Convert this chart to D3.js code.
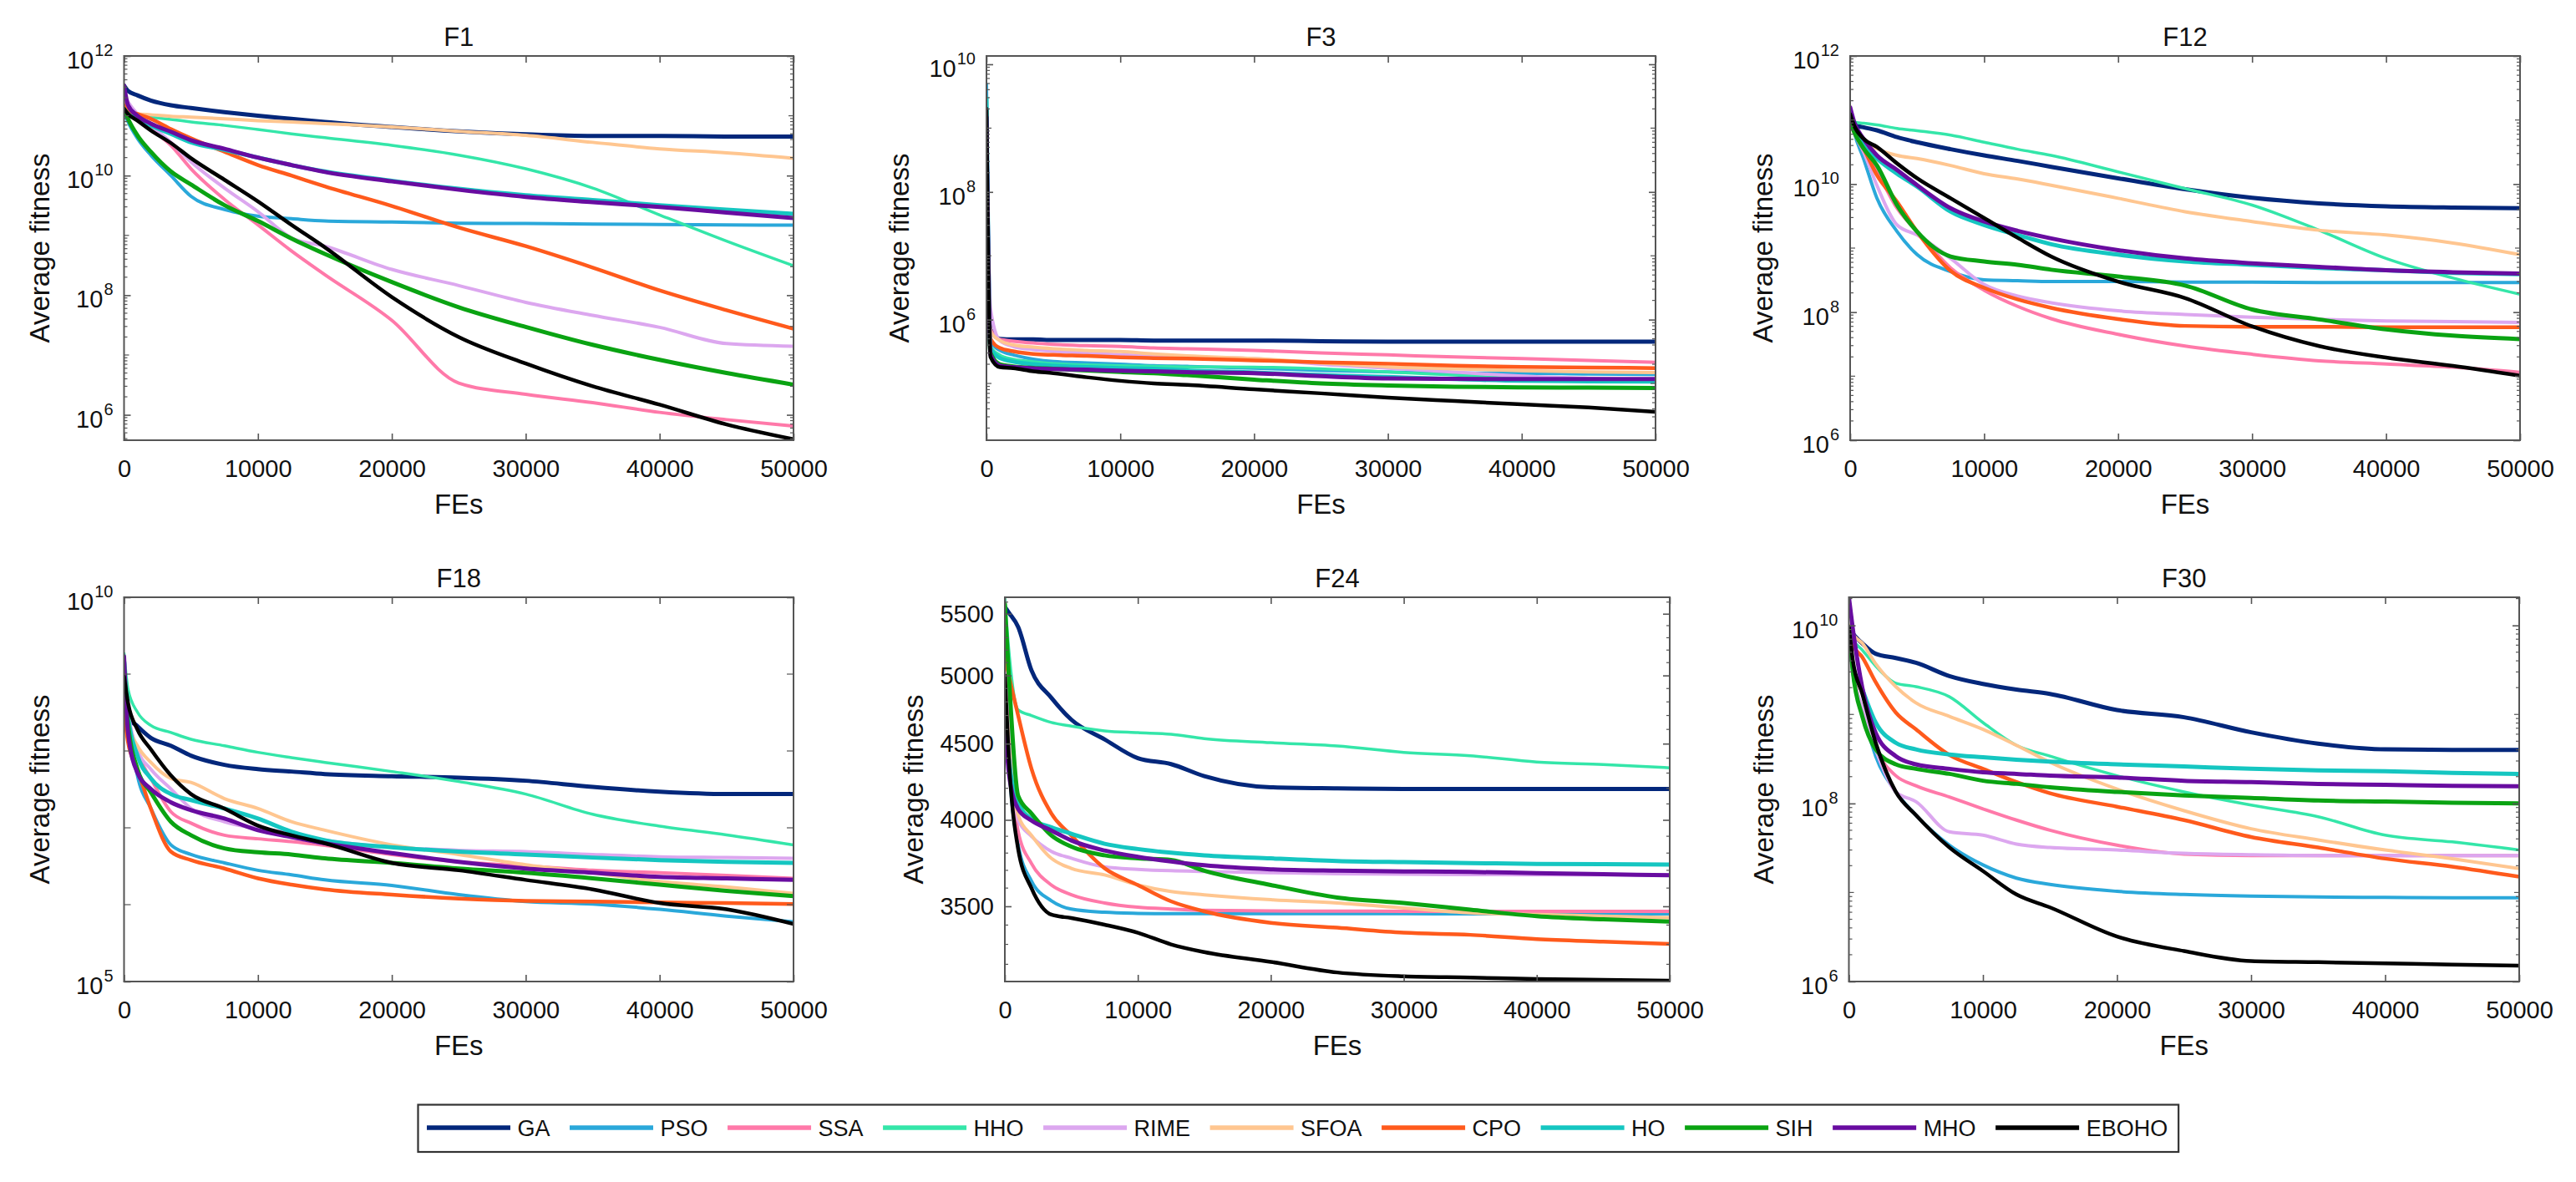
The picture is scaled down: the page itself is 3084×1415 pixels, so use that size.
<!DOCTYPE html>
<html>
<head>
<meta charset="utf-8">
<title>Convergence curves</title>
<script src="https://cdn.jsdelivr.net/npm/d3@7"></script>
<style>
  body { margin: 0; background: #fff; }
  svg { display: block; font-family: "Liberation Sans", Arial, sans-serif; }
</style>
</head>
<body>
<svg id="chart" width="3084" height="1415"></svg>
<script>
// algorithms, in legend / drawing order
const ALGORITHMS = ["GA", "PSO", "SSA", "HHO", "RIME", "SFOA", "CPO", "HO", "SIH", "MHO", "EBOHO"];
const LINE_COLORS = ["#03277b", "#2aa8da", "#ff79a9", "#34e6a9", "#dca7ef", "#ffc690",
                     "#ff5a1c", "#15c6c1", "#0aa312", "#680ca0", "#000000"];
const LINE_WIDTHS = [5, 4, 4, 3.5, 4, 4, 4.5, 5, 5, 5, 4.5];

// sample points on the x axis (function evaluations)
const FES = [0, 300, 1000, 2000, 3500, 5000, 7500, 10000, 12500, 15000,
             20000, 25000, 30000, 35000, 40000, 45000, 50000];
const X_TICKS = [0, 10000, 20000, 30000, 40000, 50000];

// average fitness, one row per algorithm (same order as ALGORITHMS)
const F1_FITNESS = [
  [3.2e11, 2.6e11, 2.2e11, 1.8e11, 1.5e11, 1.35e11, 1.15e11, 1.0e11, 8.9e10, 7.9e10, 6.5e10, 5.5e10, 4.9e10, 4.6e10, 4.6e10, 4.5e10, 4.5e10],
  [1.15e11, 7.9e10, 4.2e10, 2.2e10, 1.0e10, 4.5e9, 2.7e9, 2.1e9, 1.9e9, 1.74e9, 1.67e9, 1.6e9, 1.58e9, 1.55e9, 1.52e9, 1.5e9, 1.48e9],
  [1.9e11, 1.3e11, 8.9e10, 6.0e10, 3.2e10, 1.3e10, 4.0e9, 1.5e9, 5.5e8, 2.2e8, 3.8e7, 3.4e6, 2.2e6, 1.6e6, 1.1e6, 8.3e5, 6.5e5],
  [1.15e11, 1.07e11, 1.0e11, 9.5e10, 8.7e10, 7.9e10, 6.9e10, 5.9e10, 5.0e10, 4.3e10, 3.2e10, 2.2e10, 1.3e10, 6.2e9, 2.2e9, 8.0e8, 3.1e8],
  [2.2e11, 1.7e11, 1.07e11, 6.9e10, 3.6e10, 1.7e10, 6.2e9, 2.5e9, 9.1e8, 6.6e8, 2.7e8, 1.45e8, 7.6e7, 4.6e7, 2.9e7, 1.55e7, 1.4e7],
  [1.48e11, 1.15e11, 1.07e11, 1.04e11, 9.8e10, 9.5e10, 8.9e10, 8.3e10, 7.9e10, 7.4e10, 6.5e10, 5.5e10, 4.7e10, 3.6e10, 2.8e10, 2.4e10, 1.95e10],
  [1.5e11, 1.2e11, 1.07e11, 8.9e10, 6.0e10, 4.2e10, 2.5e10, 1.5e10, 1.0e10, 6.6e9, 3.1e9, 1.35e9, 6.6e8, 2.9e8, 1.2e8, 5.6e7, 2.75e7],
  [1.3e11, 1.07e11, 8.9e10, 6.9e10, 5.0e10, 3.6e10, 2.7e10, 2.0e10, 1.5e10, 1.17e10, 8.2e9, 6.0e9, 4.7e9, 3.9e9, 3.2e9, 2.7e9, 2.3e9],
  [1.3e11, 8.9e10, 4.7e10, 2.5e10, 1.17e10, 7.1e9, 3.2e9, 1.74e9, 8.9e8, 4.9e8, 1.66e8, 6.3e7, 2.95e7, 1.48e7, 8.3e6, 5.0e6, 3.2e6],
  [3.2e11, 1.5e11, 1.0e11, 7.4e10, 5.4e10, 3.9e10, 2.8e10, 2.0e10, 1.5e10, 1.15e10, 8.0e9, 5.8e9, 4.4e9, 3.6e9, 3.0e9, 2.4e9, 1.95e9],
  [1.3e11, 1.07e11, 8.3e10, 5.7e10, 3.5e10, 1.95e10, 8.5e9, 3.7e9, 1.5e9, 6.3e8, 9.3e7, 2.0e7, 7.2e6, 3.0e6, 1.48e6, 6.9e5, 3.9e5]
];

const F3_FITNESS = [
  [8e8, 7e5, 5e5, 4.9e5, 4.9e5, 4.8e5, 4.8e5, 4.8e5, 4.7e5, 4.7e5, 4.7e5, 4.6e5, 4.5e5, 4.5e5, 4.5e5, 4.5e5, 4.5e5],
  [4.9e9, 4.5e5, 3.3e5, 2.8e5, 2.4e5, 2.2e5, 2.1e5, 2.0e5, 1.9e5, 1.85e5, 1.74e5, 1.6e5, 1.51e5, 1.45e5, 1.45e5, 1.4e5, 1.38e5],
  [6e8, 7e5, 4.9e5, 4.6e5, 4.3e5, 4.1e5, 3.9e5, 3.8e5, 3.6e5, 3.5e5, 3.3e5, 3.0e5, 2.8e5, 2.6e5, 2.45e5, 2.3e5, 2.15e5],
  [1e9, 3.8e5, 2.8e5, 2.4e5, 2.2e5, 2.05e5, 1.95e5, 1.9e5, 1.85e5, 1.82e5, 1.8e5, 1.7e5, 1.51e5, 1.35e5, 1.2e5, 1.12e5, 1.08e5],
  [5e8, 1.5e6, 4.7e5, 3.8e5, 3.4e5, 3.2e5, 3.0e5, 2.82e5, 2.7e5, 2.6e5, 2.45e5, 2.0e5, 1.74e5, 1.5e5, 1.3e5, 1.2e5, 1.12e5],
  [4e8, 6.5e5, 4.7e5, 4.0e5, 3.7e5, 3.5e5, 3.3e5, 3.16e5, 2.9e5, 2.7e5, 2.45e5, 2.1e5, 1.82e5, 1.7e5, 1.58e5, 1.52e5, 1.48e5],
  [7e8, 5e5, 3.6e5, 3.2e5, 2.9e5, 2.8e5, 2.7e5, 2.57e5, 2.5e5, 2.45e5, 2.3e5, 2.15e5, 2.04e5, 1.9e5, 1.82e5, 1.78e5, 1.74e5],
  [3e9, 3.5e5, 2.5e5, 2.2e5, 2.0e5, 1.9e5, 1.8e5, 1.74e5, 1.7e5, 1.6e5, 1.48e5, 1.35e5, 1.26e5, 1.17e5, 1.1e5, 1.08e5, 1.07e5],
  [1.1e7, 3e5, 2.0e5, 1.85e5, 1.75e5, 1.7e5, 1.6e5, 1.51e5, 1.45e5, 1.35e5, 1.15e5, 1.0e5, 9.3e4, 8.9e4, 8.7e4, 8.6e4, 8.5e4],
  [1.5e9, 2.8e5, 1.9e5, 1.8e5, 1.72e5, 1.68e5, 1.64e5, 1.58e5, 1.55e5, 1.5e5, 1.45e5, 1.3e5, 1.2e5, 1.18e5, 1.17e5, 1.17e5, 1.17e5],
  [2e9, 2.6e5, 1.8e5, 1.74e5, 1.55e5, 1.45e5, 1.25e5, 1.1e5, 1.0e5, 9.5e4, 8.1e4, 7.0e4, 6.0e4, 5.3e4, 4.7e4, 4.2e4, 3.6e4]
];

const F12_FITNESS = [
  [9.3e10, 8.4e10, 7.7e10, 6.9e10, 5.4e10, 4.5e10, 3.5e10, 2.8e10, 2.3e10, 1.86e10, 1.23e10, 8.3e9, 6.1e9, 5.0e9, 4.5e9, 4.3e9, 4.2e9],
  [1.3e11, 6.5e10, 2.5e10, 6.0e9, 1.82e9, 7.9e8, 4.3e8, 3.2e8, 3.1e8, 3.0e8, 3.0e8, 2.95e8, 2.95e8, 2.9e8, 2.9e8, 2.9e8, 2.9e8],
  [9.3e10, 6.5e10, 3.2e10, 1.55e10, 4.2e9, 1.82e9, 4.9e8, 2.2e8, 1.23e8, 7.9e7, 4.5e7, 2.95e7, 2.2e7, 1.74e7, 1.55e7, 1.38e7, 1.15e7],
  [9.8e10, 9.3e10, 8.9e10, 8.4e10, 7.4e10, 6.8e10, 5.8e10, 4.5e10, 3.5e10, 2.8e10, 1.55e10, 8.5e9, 4.7e9, 1.9e9, 6.9e8, 3.4e8, 1.9e8],
  [9.3e10, 6.5e10, 3.2e10, 9.5e9, 2.3e9, 1.6e9, 6.9e8, 2.7e8, 1.78e8, 1.4e8, 1.05e8, 9.2e7, 8.3e7, 7.7e7, 7.3e7, 7.1e7, 6.9e7],
  [9.3e10, 6.9e10, 5.1e10, 3.6e10, 2.8e10, 2.5e10, 1.95e10, 1.45e10, 1.2e10, 9.6e9, 6.0e9, 3.7e9, 2.6e9, 1.9e9, 1.6e9, 1.2e9, 7.9e8],
  [9.3e10, 6.5e10, 3.6e10, 1.38e10, 5.3e9, 1.8e9, 4.4e8, 2.4e8, 1.58e8, 1.17e8, 7.8e7, 6.1e7, 5.9e7, 5.9e7, 5.8e7, 5.8e7, 5.8e7],
  [1.3e11, 8.2e10, 4.0e10, 2.5e10, 1.45e10, 9.1e9, 3.7e9, 2.3e9, 1.6e9, 1.15e9, 7.9e8, 6.2e8, 5.5e8, 4.9e8, 4.5e8, 4.1e8, 3.9e8],
  [9.3e10, 6.5e10, 3.6e10, 1.95e10, 4.7e9, 1.8e9, 7.4e8, 6.2e8, 5.5e8, 4.6e8, 3.6e8, 2.6e8, 1.1e8, 7.7e7, 5.4e7, 4.3e7, 3.8e7],
  [1.58e11, 9.3e10, 5.1e10, 2.8e10, 1.66e10, 9.6e9, 4.2e9, 2.6e9, 1.86e9, 1.42e9, 9.3e8, 6.9e8, 5.8e8, 5.1e8, 4.5e8, 4.2e8, 4.0e8],
  [1.24e11, 8.2e10, 5.1e10, 3.8e10, 2.1e10, 1.23e10, 6.0e9, 2.95e9, 1.45e9, 7.4e8, 3.0e8, 1.66e8, 6.0e7, 2.95e7, 1.95e7, 1.45e7, 1.02e7]
];

const F18_FITNESS = [
  [1.5e9, 2.8e8, 2.1e8, 1.48e8, 1.17e8, 8.7e7, 6.6e7, 5.8e7, 5.4e7, 5.0e7, 4.7e7, 4.5e7, 4.1e7, 3.4e7, 2.95e7, 2.75e7, 2.75e7],
  [1.5e9, 2.8e8, 4.8e7, 1.8e7, 6.0e6, 4.5e6, 3.5e6, 2.8e6, 2.45e6, 2.1e6, 1.78e6, 1.35e6, 1.1e6, 1.02e6, 8.7e5, 7.1e5, 6.0e5],
  [9.3e8, 2.8e8, 9.5e7, 4.4e7, 1.62e7, 1.15e7, 8.0e6, 7.2e6, 6.6e6, 5.9e6, 4.5e6, 3.6e6, 3.2e6, 2.8e6, 2.6e6, 2.4e6, 2.2e6],
  [1.86e9, 6.3e8, 3.2e8, 2.15e8, 1.74e8, 1.42e8, 1.17e8, 9.6e7, 8.2e7, 7.1e7, 5.4e7, 4.0e7, 2.75e7, 1.5e7, 1.05e7, 8.1e6, 6.0e6],
  [1.26e9, 3.5e8, 1.05e8, 5.8e7, 3.2e7, 1.78e7, 1.2e7, 9.8e6, 8.5e6, 6.9e6, 5.6e6, 5.1e6, 4.9e6, 4.5e6, 4.2e6, 4.1e6, 4.0e6],
  [9.3e8, 2.3e8, 1.17e8, 7.1e7, 4.4e7, 3.9e7, 2.4e7, 1.78e7, 1.2e7, 9.3e6, 6.0e6, 4.5e6, 3.3e6, 2.6e6, 2.0e6, 1.7e6, 1.4e6],
  [3.2e8, 1.3e8, 5.8e7, 1.78e7, 4.9e6, 3.8e6, 2.95e6, 2.2e6, 1.82e6, 1.58e6, 1.35e6, 1.2e6, 1.12e6, 1.1e6, 1.07e6, 1.05e6, 1.02e6],
  [1.26e9, 2.8e8, 8.7e7, 4.4e7, 2.75e7, 2.3e7, 1.78e7, 1.32e7, 8.9e6, 6.9e6, 5.6e6, 4.9e6, 4.5e6, 4.1e6, 3.8e6, 3.6e6, 3.5e6],
  [1.26e9, 2.3e8, 5.8e7, 2.9e7, 1.2e7, 8.0e6, 5.4e6, 4.8e6, 4.5e6, 4.0e6, 3.5e6, 2.95e6, 2.6e6, 2.2e6, 1.82e6, 1.51e6, 1.29e6],
  [1.7e9, 1.74e8, 5.2e7, 3.2e7, 2.15e7, 1.7e7, 1.32e7, 9.3e6, 7.6e6, 6.3e6, 4.7e6, 3.6e6, 2.95e6, 2.6e6, 2.3e6, 2.2e6, 2.1e6],
  [9.3e8, 4.2e8, 1.9e8, 1.05e8, 4.8e7, 2.75e7, 1.78e7, 1.07e7, 8.0e6, 6.3e6, 3.5e6, 2.8e6, 2.1e6, 1.58e6, 1.05e6, 8.7e5, 5.6e5]
];

const F24_FITNESS = [
  [5560, 5510, 5390, 5040, 4830, 4670, 4530, 4400, 4360, 4280, 4207, 4200, 4196, 4196, 4196, 4196, 4196],
  [5100, 4400, 3850, 3640, 3530, 3485, 3468, 3462, 3460, 3460, 3460, 3460, 3460, 3459, 3459, 3459, 3459],
  [5200, 4600, 3930, 3740, 3617, 3563, 3518, 3495, 3485, 3478, 3475, 3474, 3473, 3473, 3473, 3473, 3473],
  [5630, 5200, 4740, 4700, 4650, 4624, 4590, 4577, 4566, 4535, 4507, 4484, 4440, 4417, 4374, 4357, 4335],
  [5280, 4700, 4000, 3900, 3810, 3770, 3720, 3706, 3698, 3694, 3687, 3681, 3678, 3676, 3675, 3675, 3675],
  [5000, 4500, 4030, 3906, 3769, 3711, 3674, 3617, 3581, 3563, 3536, 3518, 3491, 3465, 3456, 3447, 3439],
  [5145, 5000, 4700, 4330, 4040, 3905, 3712, 3617, 3527, 3473, 3412, 3386, 3360, 3349, 3327, 3314, 3302],
  [4800, 4400, 4110, 4006, 3955, 3915, 3855, 3824, 3802, 3787, 3769, 3754, 3747, 3742, 3737, 3735, 3733],
  [5585, 5000, 4152, 4040, 3905, 3838, 3787, 3769, 3760, 3698, 3617, 3548, 3518, 3482, 3447, 3430, 3418],
  [4700, 4300, 4068, 3996, 3935, 3875, 3815, 3778, 3751, 3729, 3706, 3698, 3694, 3691, 3684, 3678, 3672],
  [5000, 4400, 3824, 3600, 3455, 3437, 3402, 3360, 3300, 3261, 3212, 3160, 3141, 3135, 3128, 3124, 3120]
];

const F30_FITNESS = [
  [9.6e9, 8.1e9, 6.3e9, 4.8e9, 4.3e9, 3.8e9, 2.7e9, 2.2e9, 1.9e9, 1.7e9, 1.12e9, 9.3e8, 6.3e8, 4.7e8, 4.05e8, 4.0e8, 4.0e8],
  [9.6e9, 2.9e9, 1.1e9, 3.4e8, 1.35e8, 7.4e7, 3.4e7, 2.04e7, 1.45e7, 1.23e7, 1.03e7, 9.5e6, 9.1e6, 8.9e6, 8.8e6, 8.7e6, 8.7e6],
  [9.6e9, 3.5e9, 1.0e9, 4.05e8, 2.05e8, 1.58e8, 1.18e8, 8.7e7, 6.5e7, 5.0e7, 3.4e7, 2.7e7, 2.6e7, 2.6e7, 2.6e7, 2.6e7, 2.6e7],
  [9.6e9, 7.0e9, 5.3e9, 3.5e9, 2.24e9, 2.05e9, 1.58e9, 8.1e8, 4.5e8, 3.4e8, 2.05e8, 1.35e8, 9.6e7, 7.1e7, 4.4e7, 3.7e7, 3.0e7],
  [9.6e9, 3.0e9, 1.2e9, 4.0e8, 1.35e8, 1.05e8, 4.8e7, 4.4e7, 3.5e7, 3.2e7, 3.0e7, 2.75e7, 2.65e7, 2.6e7, 2.6e7, 2.6e7, 2.6e7],
  [1.0e10, 8.0e9, 6.3e9, 3.7e9, 2.05e9, 1.35e9, 9.5e8, 6.8e8, 4.5e8, 2.9e8, 1.45e8, 8.3e7, 5.2e7, 3.9e7, 3.0e7, 2.4e7, 1.86e7],
  [8.8e9, 6.0e9, 4.4e9, 2.3e9, 1.05e9, 6.8e8, 3.5e8, 2.45e8, 1.74e8, 1.3e8, 9.2e7, 6.5e7, 4.2e7, 3.2e7, 2.4e7, 1.95e7, 1.5e7],
  [9.6e9, 3.5e9, 1.9e9, 8.1e8, 4.8e8, 4.05e8, 3.55e8, 3.3e8, 3.1e8, 2.95e8, 2.75e8, 2.6e8, 2.45e8, 2.35e8, 2.3e8, 2.2e8, 2.14e8],
  [9.6e9, 3.0e9, 9.5e8, 4.05e8, 2.75e8, 2.45e8, 2.15e8, 1.8e8, 1.66e8, 1.52e8, 1.35e8, 1.23e8, 1.15e8, 1.08e8, 1.05e8, 1.02e8, 1.0e8],
  [2.07e10, 9.0e9, 2.0e9, 6.2e8, 3.4e8, 2.75e8, 2.45e8, 2.24e8, 2.15e8, 2.05e8, 1.96e8, 1.8e8, 1.74e8, 1.66e8, 1.62e8, 1.58e8, 1.56e8],
  [9.6e9, 4.0e9, 1.7e9, 4.8e8, 1.35e8, 7.4e7, 3.2e7, 1.74e7, 9.5e6, 6.8e6, 3.2e6, 2.2e6, 1.7e6, 1.65e6, 1.6e6, 1.55e6, 1.51e6]
];

const PANEL_TITLES = ["F1", "F3", "F12", "F18", "F24", "F30"];
const Y_RANGES = [[3.76e5, 1e12], [1.29e4, 1.35e10], [1e6, 1e12], [1e5, 1e10], [3116, 5642], [1e6, 2.07e10]];
const Y_TICKS = [
  [1e6, 1e8, 1e10, 1e12],
  [1e6, 1e8, 1e10],
  [1e6, 1e8, 1e10, 1e12],
  [1e5, 1e10],
  [3500, 4000, 4500, 5000, 5500],
  [1e6, 1e8, 1e10]
];

// layout: [left, right, top, bottom] of each plot box, y-label distance, minor tick style
const PANEL_BOXES = [
  [148.5, 950, 67, 527], [1181, 1982, 67, 527], [2215, 3017, 67, 527],
  [148.5, 950, 715, 1175], [1203, 1999, 715, 1175], [2213.5, 3016, 715, 1175]
];
const YLABEL_GAP = [90, 93, 93, 90, 98, 91];
const MINOR_KIND = ["sub", "sub", "sub", "decade", "hundred", "sub"];
const PANEL_DATA = [F1_FITNESS, F3_FITNESS, F12_FITNESS, F18_FITNESS, F24_FITNESS, F30_FITNESS];

const AXIS_COLOR = "#555555";
const FONT = '"Liberation Sans", Arial, sans-serif';

const svg = d3.select("#chart");
svg.append("rect").attr("width", 3084).attr("height", 1415).attr("fill", "#fff");

function minorTicks(kind, domain, majors) {
  const [lo, hi] = domain;
  const out = [];
  if (kind === "hundred") {
    for (let v = Math.ceil(lo / 100) * 100; v <= hi; v += 100) {
      if (!majors.includes(v)) out.push({ v: v, len: 4 });
    }
    return out;
  }
  const steps = kind === "sub" ? [1, 2, 3, 4, 5, 6, 7, 8, 9] : [1];
  for (let k = Math.floor(Math.log10(lo)); k <= Math.ceil(Math.log10(hi)); k++) {
    for (const m of steps) {
      const v = m * Math.pow(10, k);
      if (v < lo * 0.9999 || v > hi * 1.0001) continue;
      if (majors.some(t => Math.abs(t - v) / v < 1e-6)) continue;
      out.push({ v: v, len: m === 1 ? (kind === "decade" ? 8 : 6) : 4 });
    }
  }
  return out;
}

PANEL_TITLES.forEach((title, i) => {
  const [left, right, top, bottom] = PANEL_BOXES[i];
  const x = d3.scaleLinear().domain([0, 50000]).range([left, right]);
  const y = d3.scaleLog().domain(Y_RANGES[i]).range([bottom, top]);
  const g = svg.append("g");

  g.append("clipPath").attr("id", "clip" + i)
    .append("rect")
    .attr("x", left).attr("y", top)
    .attr("width", right - left).attr("height", bottom - top);

  const lineGen = d3.line()
    .x((d, j) => x(FES[j]))
    .y(d => y(d))
    .curve(d3.curveMonotoneX);

  g.append("g")
    .attr("clip-path", `url(#clip${i})`)
    .selectAll("path")
    .data(PANEL_DATA[i])
    .join("path")
    .attr("d", lineGen)
    .attr("fill", "none")
    .attr("stroke", (d, k) => LINE_COLORS[k])
    .attr("stroke-width", (d, k) => LINE_WIDTHS[k])
    .attr("stroke-linejoin", "round")
    .attr("stroke-linecap", "round");

  const styleTicks = a => {
    a.select(".domain").remove();
    a.selectAll("line").attr("stroke", AXIS_COLOR).attr("stroke-width", 1.6);
  };

  // x axes (bottom with labels, top mirrored)
  g.append("g")
    .attr("transform", `translate(0,${bottom})`)
    .call(d3.axisBottom(x).tickValues(X_TICKS).tickFormat(d3.format("d")).tickSizeInner(-8).tickSizeOuter(0))
    .call(styleTicks)
    .call(a => a.selectAll("text").attr("y", 43.5).attr("dy", null).attr("fill", "#111"))
    .attr("font-family", FONT).attr("font-size", 29);
  g.append("g")
    .attr("transform", `translate(0,${top})`)
    .call(d3.axisTop(x).tickValues(X_TICKS).tickFormat("").tickSizeInner(-8).tickSizeOuter(0))
    .call(styleTicks);

  // y axes (left and right, major ticks)
  g.append("g")
    .attr("transform", `translate(${left},0)`)
    .call(d3.axisLeft(y).tickValues(Y_TICKS[i]).tickFormat("").tickSizeInner(-8).tickSizeOuter(0))
    .call(styleTicks);
  g.append("g")
    .attr("transform", `translate(${right},0)`)
    .call(d3.axisRight(y).tickValues(Y_TICKS[i]).tickFormat("").tickSizeInner(-8).tickSizeOuter(0))
    .call(styleTicks);

  // minor ticks
  const minors = minorTicks(MINOR_KIND[i], Y_RANGES[i], Y_TICKS[i]);
  const mg = g.append("g").attr("stroke", AXIS_COLOR).attr("stroke-width", 1.2);
  mg.selectAll("line.l").data(minors).join("line").attr("class", "l")
    .attr("x1", left).attr("x2", d => left + d.len)
    .attr("y1", d => y(d.v)).attr("y2", d => y(d.v));
  mg.selectAll("line.r").data(minors).join("line").attr("class", "r")
    .attr("x1", right).attr("x2", d => right - d.len)
    .attr("y1", d => y(d.v)).attr("y2", d => y(d.v));

  // y tick labels
  const plain = MINOR_KIND[i] === "hundred";
  g.selectAll("text.ylab")
    .data(Y_TICKS[i])
    .join("text")
    .attr("class", "ylab")
    .attr("x", left - 13)
    .attr("y", d => y(d) + (plain ? 10 : 15))
    .attr("text-anchor", "end")
    .attr("font-size", 29)
    .attr("fill", "#111")
    .each(function (d) {
      const t = d3.select(this);
      if (plain) {
        t.text(d3.format("d")(d));
      } else {
        t.append("tspan").text("10");
        t.append("tspan").attr("font-size", 20).attr("dy", -15).attr("dx", 1)
          .text(Math.round(Math.log10(d)));
      }
    });

  // box
  g.append("rect")
    .attr("x", left).attr("y", top)
    .attr("width", right - left).attr("height", bottom - top)
    .attr("fill", "none").attr("stroke", AXIS_COLOR).attr("stroke-width", 2);

  // titles and axis labels
  g.append("text")
    .attr("x", (left + right) / 2).attr("y", top - 12)
    .attr("text-anchor", "middle").attr("font-size", 31).attr("fill", "#111")
    .text(title);
  g.append("text")
    .attr("x", (left + right) / 2).attr("y", bottom + 88)
    .attr("text-anchor", "middle").attr("font-size", 33).attr("fill", "#111")
    .text("FEs");
  g.append("text")
    .attr("transform", `translate(${left - YLABEL_GAP[i]},${(top + bottom) / 2}) rotate(-90)`)
    .attr("text-anchor", "middle").attr("font-size", 33).attr("fill", "#111")
    .text("Average fitness");
});

// legend
const LEG = { x: 500.5, y: 1322.5, h: 56.5, start: 511, lineLen: 100, textGap: 8.5, itemGap: 23.5, pad: 13, cy: 1350 };
const legend = svg.append("g");
const legendBox = legend.append("rect")
  .attr("x", LEG.x).attr("y", LEG.y).attr("height", LEG.h)
  .attr("fill", "#fff").attr("stroke", "#333").attr("stroke-width", 2.2);
let cursor = LEG.start;
let textEnd = cursor;
ALGORITHMS.forEach((name, k) => {
  legend.append("line")
    .attr("x1", cursor).attr("x2", cursor + LEG.lineLen)
    .attr("y1", LEG.cy).attr("y2", LEG.cy)
    .attr("stroke", LINE_COLORS[k]).attr("stroke-width", 5.5);
  const t = legend.append("text")
    .attr("x", cursor + LEG.lineLen + LEG.textGap).attr("y", LEG.cy + 10)
    .attr("font-size", 27).attr("fill", "#111")
    .text(name);
  textEnd = cursor + LEG.lineLen + LEG.textGap + t.node().getComputedTextLength();
  cursor = textEnd + LEG.itemGap;
});
legendBox.attr("width", textEnd + LEG.pad - LEG.x);
</script>
</body>
</html>
